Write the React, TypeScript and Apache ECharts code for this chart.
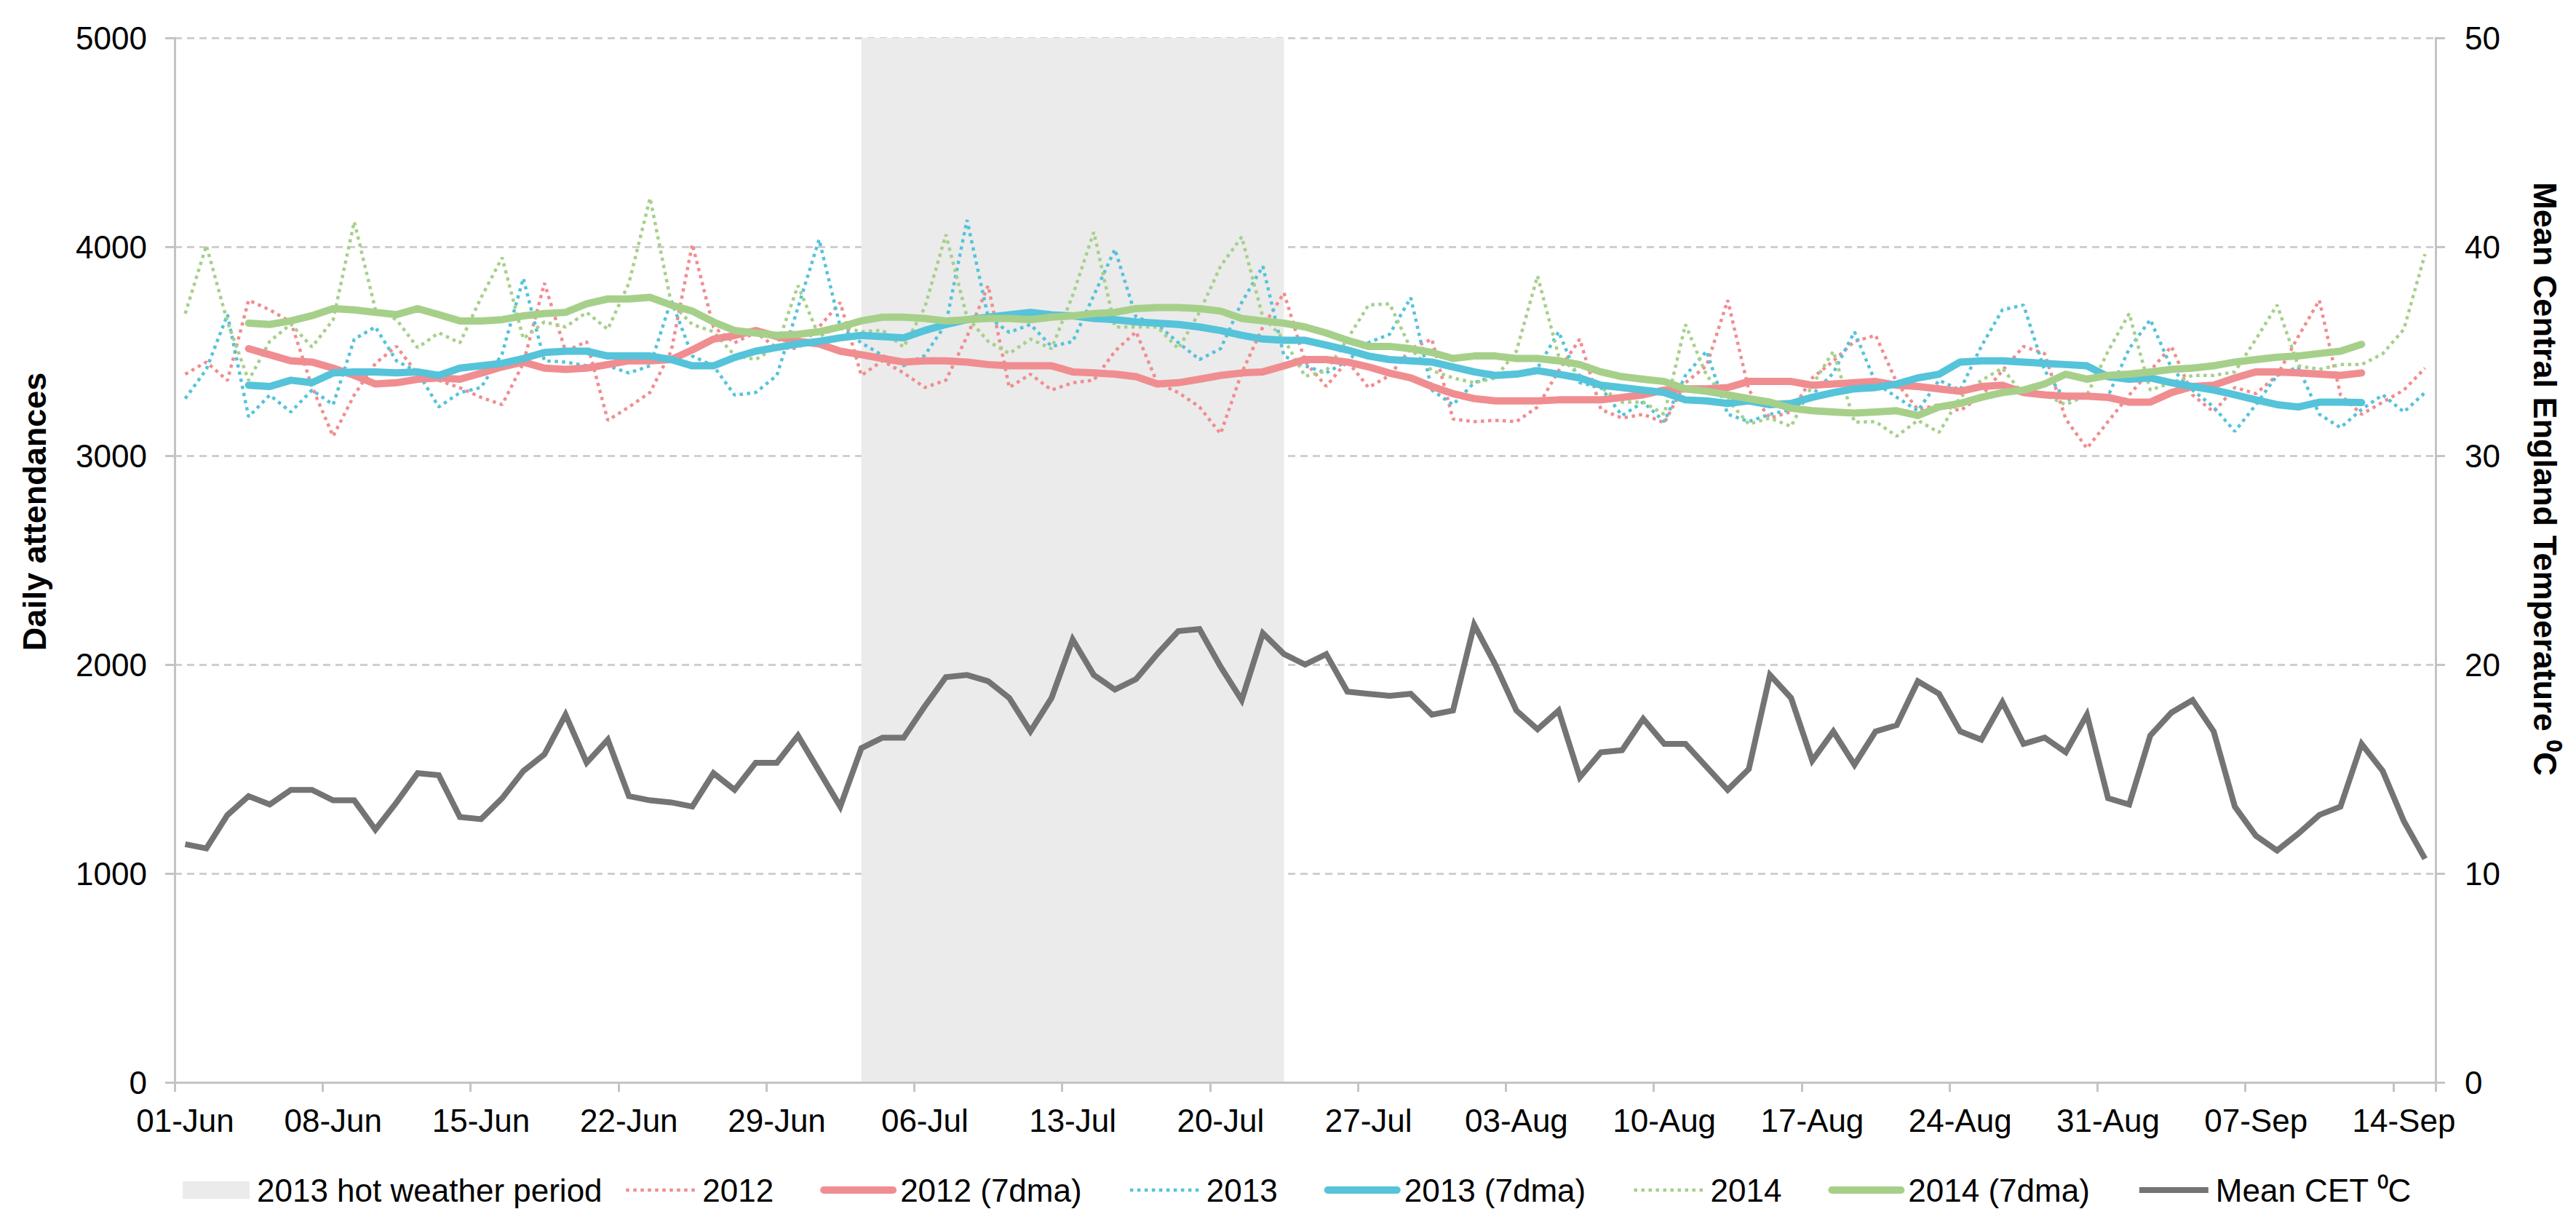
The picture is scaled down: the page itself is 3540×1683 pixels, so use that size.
import React, { useEffect, useRef } from "react";
import * as echarts from "echarts";

const DATES = [
  "01-Jun","02-Jun","03-Jun","04-Jun","05-Jun","06-Jun","07-Jun","08-Jun","09-Jun","10-Jun",
  "11-Jun","12-Jun","13-Jun","14-Jun","15-Jun","16-Jun","17-Jun","18-Jun","19-Jun","20-Jun",
  "21-Jun","22-Jun","23-Jun","24-Jun","25-Jun","26-Jun","27-Jun","28-Jun","29-Jun","30-Jun",
  "01-Jul","02-Jul","03-Jul","04-Jul","05-Jul","06-Jul","07-Jul","08-Jul","09-Jul","10-Jul",
  "11-Jul","12-Jul","13-Jul","14-Jul","15-Jul","16-Jul","17-Jul","18-Jul","19-Jul","20-Jul",
  "21-Jul","22-Jul","23-Jul","24-Jul","25-Jul","26-Jul","27-Jul","28-Jul","29-Jul","30-Jul",
  "31-Jul","01-Aug","02-Aug","03-Aug","04-Aug","05-Aug","06-Aug","07-Aug","08-Aug","09-Aug",
  "10-Aug","11-Aug","12-Aug","13-Aug","14-Aug","15-Aug","16-Aug","17-Aug","18-Aug","19-Aug",
  "20-Aug","21-Aug","22-Aug","23-Aug","24-Aug","25-Aug","26-Aug","27-Aug","28-Aug","29-Aug",
  "30-Aug","31-Aug","01-Sep","02-Sep","03-Sep","04-Sep","05-Sep","06-Sep","07-Sep","08-Sep",
  "09-Sep","10-Sep","11-Sep","12-Sep","13-Sep","14-Sep","15-Sep"
];

const HOT_START = "03-Jul";
const HOT_END = "23-Jul";

const Y2012 = [
  3390, 3448, 3360, 3744, 3698, 3640, 3330, 3093, 3291, 3442,
  3523, 3390, 3360, 3325, 3279, 3244, 3442, 3826, 3500, 3546,
  3169, 3233, 3303, 3500, 4012, 3616, 3540, 3590, 3515, 3514,
  3616, 3733, 3384, 3454, 3396, 3326, 3361, 3570, 3814, 3326,
  3390, 3314, 3349, 3361, 3500, 3593, 3349, 3302, 3233, 3105,
  3396, 3616, 3779, 3450, 3332, 3454, 3326, 3384, 3512, 3558,
  3175, 3163, 3169, 3163, 3233, 3407, 3558, 3221, 3180, 3198,
  3157, 3349, 3430, 3744, 3314, 3180, 3210, 3372, 3453, 3547,
  3576, 3349, 3221, 3244, 3215, 3285, 3407, 3523, 3488, 3175,
  3035, 3163, 3290, 3407, 3523, 3291, 3209, 3326, 3297, 3384,
  3570, 3744, 3291, 3198, 3256, 3314, 3419
];

const Y2013 = [
  3273, 3413, 3675, 3186, 3290, 3209, 3314, 3244, 3558, 3616,
  3454, 3400, 3233, 3302, 3326, 3488, 3849, 3454, 3448, 3430,
  3430, 3396, 3430, 3744, 3477, 3430, 3290, 3302, 3384, 3709,
  4035, 3616, 3540, 3480, 3430, 3480, 3630, 4128, 3663, 3590,
  3628, 3523, 3546, 3767, 3988, 3663, 3628, 3541, 3460, 3512,
  3733, 3907, 3477, 3430, 3396, 3454, 3541, 3581, 3756, 3314,
  3244, 3349, 3384, 3396, 3419, 3593, 3349, 3326, 3192, 3256,
  3163, 3384, 3500, 3198, 3163, 3198, 3221, 3291, 3396, 3593,
  3349, 3279, 3215, 3361, 3314, 3523, 3698, 3721, 3407, 3267,
  3285, 3285, 3512, 3651, 3419, 3314, 3233, 3116, 3244, 3384,
  3424, 3198, 3134, 3221, 3291, 3209, 3302
];

const Y2014 = [
  3680, 4006, 3640, 3360, 3547, 3630, 3520, 3650, 4120, 3700,
  3651, 3517, 3588, 3540, 3756, 3948, 3560, 3640, 3616, 3686,
  3605, 3826, 4233, 3730, 3628, 3593, 3480, 3460, 3523, 3814,
  3570, 3620, 3593, 3600, 3520, 3709, 4058, 3663, 3547, 3489,
  3558, 3512, 3767, 4070, 3616, 3616, 3616, 3512, 3686, 3907,
  4047, 3663, 3558, 3380, 3405, 3558, 3721, 3727, 3512, 3407,
  3372, 3349, 3372, 3500, 3860, 3477, 3384, 3326, 3256, 3256,
  3198, 3628, 3384, 3267, 3151, 3180, 3140, 3337, 3500, 3160,
  3163, 3093, 3169, 3111, 3279, 3360, 3419, 3291, 3291, 3244,
  3290, 3500, 3680, 3314, 3349, 3384, 3384, 3401, 3558, 3721,
  3430, 3413, 3436, 3436, 3488, 3605, 3965
];

const MA2012 = [
  null, null, null, 3512, 3483, 3454, 3448, 3419, 3384, 3343,
  3349, 3366, 3372, 3366, 3395, 3425, 3448, 3419, 3413, 3419,
  3436, 3454, 3454, 3460, 3506, 3558, 3575, 3599, 3570, 3547,
  3535, 3500, 3483, 3465, 3448, 3454, 3454, 3448, 3436, 3430,
  3430, 3430, 3401, 3396, 3390, 3378, 3343, 3349, 3366, 3384,
  3396, 3401, 3430, 3460, 3460, 3448, 3425, 3395, 3372, 3331,
  3297, 3273, 3262, 3262, 3262, 3267, 3267, 3267, 3279, 3291,
  3314, 3320, 3320, 3326, 3355, 3355, 3355, 3337, 3343, 3349,
  3355, 3337, 3331, 3320, 3308, 3331, 3337, 3302, 3291, 3285,
  3285, 3279, 3256, 3256, 3302, 3331, 3337, 3372, 3401, 3401,
  3396, 3390, 3384, 3396, null, null, null
];

const MA2013 = [
  null, null, null, 3337, 3331, 3361, 3349, 3396, 3401, 3401,
  3396, 3401, 3384, 3419, 3430, 3442, 3465, 3494, 3500, 3500,
  3477, 3477, 3477, 3460, 3430, 3430, 3470, 3500, 3518, 3535,
  3547, 3564, 3576, 3570, 3564, 3599, 3628, 3651, 3663, 3674,
  3686, 3674, 3669, 3657, 3651, 3640, 3634, 3628, 3616, 3599,
  3576, 3558, 3552, 3552, 3529, 3506, 3477, 3460, 3454, 3448,
  3425, 3401, 3384, 3390, 3407, 3390, 3372, 3337, 3326, 3314,
  3302, 3267, 3262, 3250, 3262, 3244, 3250, 3279, 3302, 3320,
  3326, 3343, 3372, 3390, 3448, 3454, 3454, 3448, 3442, 3436,
  3430, 3378, 3366, 3372, 3349, 3331, 3314, 3291, 3267, 3244,
  3233, 3256, 3256, 3254, null, null, null
];

const MA2014 = [
  null, null, null, 3634, 3628, 3645, 3670, 3704, 3698, 3686,
  3675, 3704, 3675, 3645, 3645, 3651, 3669, 3680, 3686, 3727,
  3750, 3750, 3758, 3721, 3692, 3640, 3599, 3587, 3576, 3581,
  3593, 3616, 3645, 3663, 3663, 3657, 3645, 3651, 3657, 3657,
  3651, 3663, 3669, 3680, 3686, 3704, 3709, 3709, 3704, 3692,
  3657, 3645, 3634, 3616, 3587, 3552, 3523, 3523, 3512, 3494,
  3465, 3477, 3477, 3465, 3465, 3454, 3436, 3401, 3378, 3366,
  3355, 3320, 3308, 3291, 3273, 3256, 3227, 3215, 3209, 3204,
  3209, 3215, 3192, 3233, 3250, 3279, 3302, 3314, 3343, 3390,
  3366, 3384, 3390, 3401, 3413, 3419, 3430, 3448, 3460, 3471,
  3477, 3489, 3500, 3533, null, null, null
];

const CET = [
  11.4, 11.2, 12.8, 13.7, 13.3, 14.0, 14.0, 13.5, 13.5, 12.1,
  13.4, 14.8, 14.7, 12.7, 12.6, 13.6, 14.9, 15.7, 17.6, 15.3,
  16.4, 13.7, 13.5, 13.4, 13.2, 14.8, 14.0, 15.3, 15.3, 16.6,
  14.9, 13.2, 16.0, 16.5, 16.5, 18.0, 19.4, 19.5, 19.2, 18.4,
  16.8, 18.4, 21.2, 19.5, 18.8, 19.3, 20.5, 21.6, 21.7, 19.9,
  18.3, 21.5, 20.5, 20.0, 20.5, 18.7, 18.6, 18.5, 18.6, 17.6,
  17.8, 21.9, 20.0, 17.8, 16.9, 17.8, 14.6, 15.8, 15.9, 17.4,
  16.2, 16.2, 15.1, 14.0, 15.0, 19.5, 18.4, 15.4, 16.8, 15.2,
  16.8, 17.1, 19.2, 18.6, 16.8, 16.4, 18.2, 16.2, 16.5, 15.8,
  17.6, 13.6, 13.3, 16.6, 17.7, 18.3, 16.8, 13.2, 11.8, 11.1,
  11.9, 12.8, 13.2, 16.2, 14.9, 12.5, 10.7
];

const LEFT_TICKS = [0, 1000, 2000, 3000, 4000, 5000];
const RIGHT_TICKS = [0, 10, 20, 30, 40, 50];

const FONT = '"Liberation Sans", Arial, Helvetica, sans-serif';
const AXIS_GRAY = "#C4C4C4";
const GRID_GRAY = "#CFCFCF";

const C2012 = "#F08D90";
const C2013 = "#55C3DA";
const C2014 = "#A6D08A";
const CCET = "#747474";
const CHOT = "#EBEBEB";

export default function App() {
  const ref = useRef<HTMLDivElement>(null);

  useEffect(() => {
    document.body.style.margin = "0";
    if (!ref.current) return;
    const chart = echarts.init(ref.current, undefined, { renderer: "svg" });

    const dotted = (name: string, data: number[], color: string) => ({
      name,
      type: "line",
      yAxisIndex: 0,
      data,
      symbol: "none",
      showSymbol: false,
      z: 3,
      lineStyle: { color, width: 4.5, type: [4.5, 5.5] },
      itemStyle: { color },
    });
    const solid = (name: string, data: (number | null)[], color: string) => ({
      name,
      type: "line",
      yAxisIndex: 0,
      data,
      symbol: "none",
      showSymbol: false,
      z: 4,
      lineStyle: { color, width: 10, cap: "round", join: "round" },
      itemStyle: { color },
    });

    const legendText = {
      fontSize: 44,
      fontFamily: FONT,
      color: "#000",
      lineHeight: 48,
      padding: [0, 0, 0, 5],
    };

    const option: any = {
      animation: false,
      backgroundColor: "#fff",
      textStyle: { fontFamily: FONT },
      grid: { left: 240, right: 193, top: 52, bottom: 196, containLabel: false },
      legend: [
        {
          data: [{ name: "2013 hot weather period", icon: "rect" }],
          left: 246,
          top: 1606,
          itemWidth: 92,
          itemHeight: 24,
          itemGap: 64,
          textStyle: legendText,
          itemStyle: { color: CHOT },
          selectedMode: false,
        },
        {
          data: ["2012", "2012 (7dma)", "2013", "2013 (7dma)", "2014", "2014 (7dma)", "Mean CET ⁰C"],
          left: 853,
          top: 1606,
          itemWidth: 95,
          itemHeight: 24,
          itemGap: 64,
          textStyle: legendText,
          itemStyle: { opacity: 0 },
          lineStyle: { width: "inherit" },
          selectedMode: false,
        },
      ],
      xAxis: {
        type: "category",
        data: DATES,
        boundaryGap: true,
        z: 10,
        axisLine: { show: true, lineStyle: { color: AXIS_GRAY, width: 3 } },
        axisTick: { show: true, interval: 6, length: 13, lineStyle: { color: AXIS_GRAY, width: 3 } },
        axisLabel: { interval: 6, margin: 30, fontSize: 44, color: "#000", fontFamily: FONT },
        splitLine: { show: false },
      },
      yAxis: [
        {
          type: "value",
          position: "left",
          min: LEFT_TICKS[0],
          max: LEFT_TICKS[LEFT_TICKS.length - 1],
          interval: 1000,
          axisLine: { show: true, lineStyle: { color: AXIS_GRAY, width: 3 } },
          axisTick: { show: true, length: 13, lineStyle: { color: AXIS_GRAY, width: 3 } },
          axisLabel: {
            margin: 38,
            fontSize: 44,
            color: "#000",
            fontFamily: FONT,
            formatter: (v: number) => String(v),
          },
          splitLine: { show: true, lineStyle: { color: GRID_GRAY, width: 3, type: [10, 7] } },
        },
        {
          type: "value",
          position: "right",
          min: RIGHT_TICKS[0],
          max: RIGHT_TICKS[RIGHT_TICKS.length - 1],
          interval: 10,
          axisLine: { show: true, lineStyle: { color: AXIS_GRAY, width: 3 } },
          axisTick: { show: true, length: 13, lineStyle: { color: AXIS_GRAY, width: 3 } },
          axisLabel: {
            margin: 40,
            fontSize: 44,
            color: "#000",
            fontFamily: FONT,
            formatter: (v: number) => String(v),
          },
          splitLine: { show: false },
        },
      ],
      graphic: [
        {
          type: "text",
          x: 47,
          y: 703,
          rotation: Math.PI / 2,
          style: {
            text: "Daily attendances",
            fontSize: 45,
            fontWeight: "bold",
            fontFamily: FONT,
            fill: "#000",
            textAlign: "center",
            textVerticalAlign: "middle",
            align: "center",
            verticalAlign: "middle",
          },
        },
        {
          type: "text",
          x: 3497,
          y: 658,
          rotation: -Math.PI / 2,
          style: {
            text: "Mean Central England Temperature ⁰C",
            fontSize: 45,
            fontWeight: "bold",
            fontFamily: FONT,
            fill: "#000",
            textAlign: "center",
            textVerticalAlign: "middle",
            align: "center",
            verticalAlign: "middle",
          },
        },
      ],
      series: [
        {
          name: "2013 hot weather period",
          type: "line",
          yAxisIndex: 0,
          data: DATES.map(() => null),
          symbol: "none",
          showSymbol: false,
          z: 1,
          color: CHOT,
          lineStyle: { width: 0, color: CHOT },
          itemStyle: { color: CHOT },
          markArea: {
            silent: true,
            itemStyle: { color: CHOT },
            data: [[{ xAxis: HOT_START }, { xAxis: HOT_END }]],
          },
        },
        dotted("2012", Y2012, C2012),
        solid("2012 (7dma)", MA2012, C2012),
        dotted("2013", Y2013, C2013),
        solid("2013 (7dma)", MA2013, C2013),
        dotted("2014", Y2014, C2014),
        solid("2014 (7dma)", MA2014, C2014),
        {
          name: "Mean CET ⁰C",
          type: "line",
          yAxisIndex: 1,
          data: CET,
          symbol: "none",
          showSymbol: false,
          z: 5,
          lineStyle: { color: CCET, width: 8, join: "miter" },
          itemStyle: { color: CCET },
        },
      ],
    };

    chart.setOption(option);
    return () => {
      chart.dispose();
    };
  }, []);

  return <div ref={ref} style={{ width: 3540, height: 1683 }} />;
}
